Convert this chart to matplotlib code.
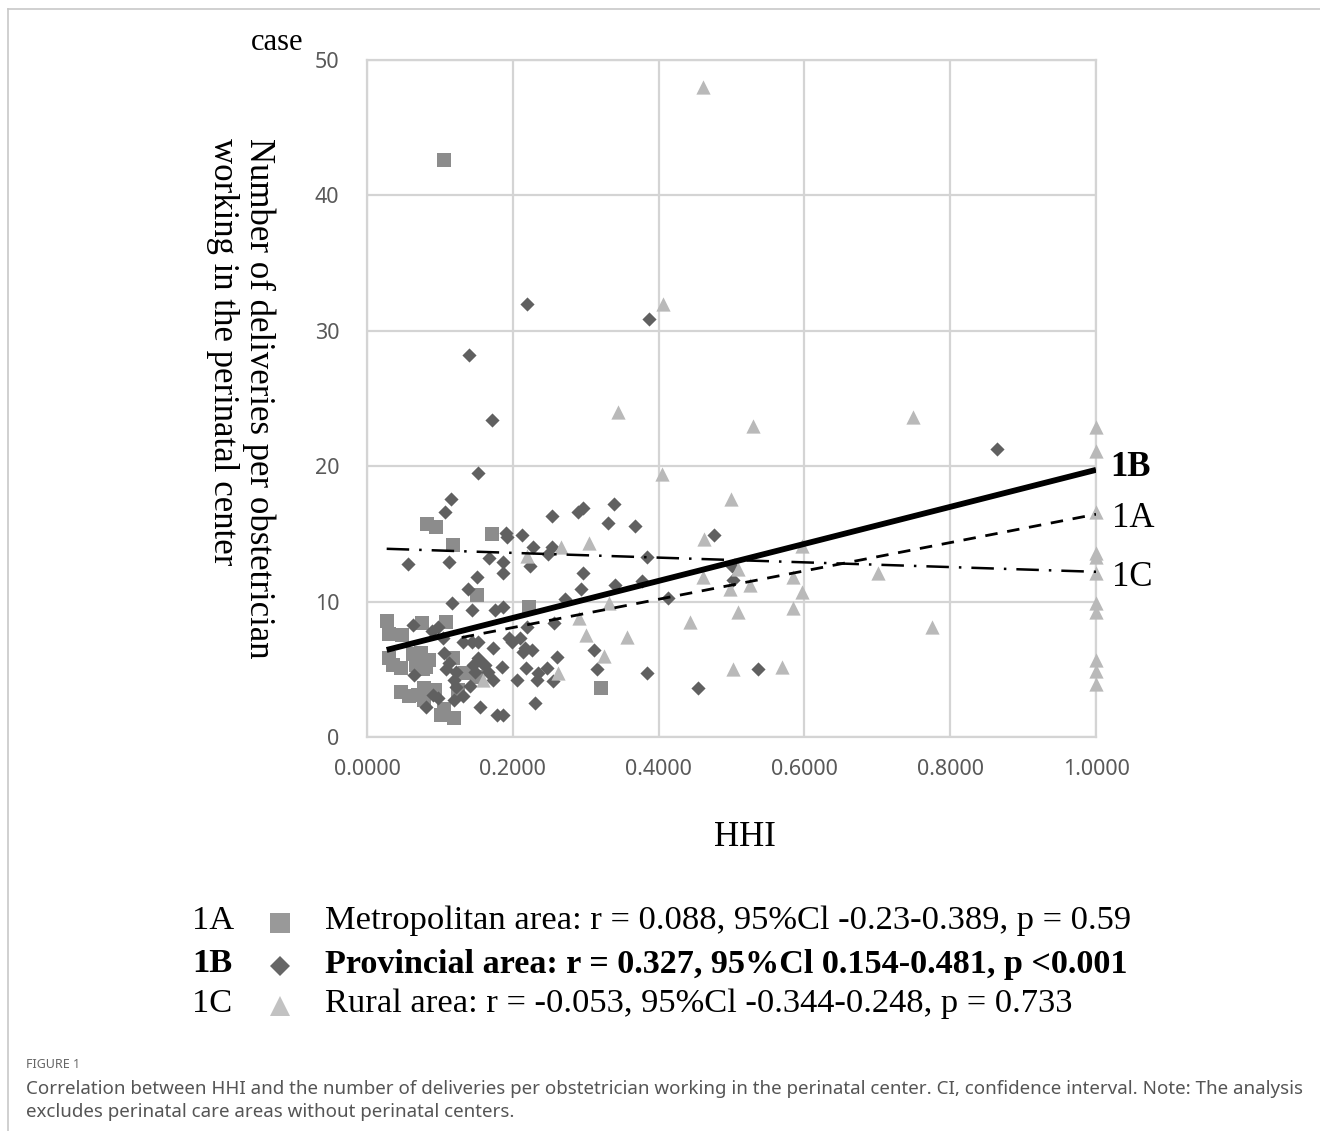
import matplotlib
matplotlib.use("Agg")
import matplotlib.pyplot as plt
from matplotlib.lines import Line2D

# ---------------- data ----------------
metro_x = [0.106, 0.027, 0.030, 0.048, 0.075, 0.108, 0.082, 0.095, 0.118, 0.171,
           0.151, 0.222, 0.321, 0.030, 0.036, 0.047, 0.063, 0.074, 0.067, 0.077,
           0.118, 0.047, 0.058, 0.070, 0.078, 0.078, 0.106, 0.102, 0.119, 0.125,
           0.134, 0.152, 0.085, 0.093, 0.081]
metro_y = [42.6, 8.6, 7.6, 7.5, 8.4, 8.5, 15.7, 15.5, 14.2, 15.0,
           10.5, 9.6, 3.6, 5.8, 5.3, 5.1, 6.1, 6.2, 5.3, 5.0,
           5.8, 3.3, 3.0, 3.1, 3.6, 2.7, 2.1, 1.6, 1.4, 3.5,
           4.7, 4.4, 5.7, 3.5, 5.2]

prov_x = [0.219, 0.140, 0.387, 0.171, 0.152, 0.864, 0.115, 0.107, 0.254, 0.289,
          0.296, 0.339, 0.331, 0.368, 0.191, 0.192, 0.213, 0.228, 0.254, 0.248,
          0.167, 0.187, 0.224, 0.187, 0.296, 0.294, 0.272, 0.340, 0.377, 0.384,
          0.413, 0.476, 0.502, 0.501, 0.536, 0.454, 0.384, 0.316, 0.311, 0.056,
          0.112, 0.151, 0.139, 0.117, 0.144, 0.176, 0.187, 0.063, 0.257, 0.219,
          0.195, 0.210, 0.217, 0.226, 0.261, 0.247, 0.218, 0.235, 0.233, 0.206,
          0.255, 0.230, 0.187, 0.178, 0.155, 0.132, 0.144, 0.152, 0.173, 0.199,
          0.214, 0.152, 0.158, 0.162, 0.145, 0.166, 0.185, 0.148, 0.173, 0.141,
          0.104, 0.106, 0.112, 0.064, 0.108, 0.122, 0.119, 0.122, 0.091, 0.097,
          0.119, 0.081, 0.132, 0.089, 0.097]
prov_y = [32.0, 28.2, 30.9, 23.4, 19.5, 21.3, 17.6, 16.6, 16.3, 16.6,
          16.9, 17.2, 15.8, 15.6, 15.1, 14.8, 14.9, 14.0, 14.0, 13.5,
          13.2, 12.9, 12.6, 12.1, 12.1, 10.9, 10.2, 11.2, 11.5, 13.3,
          10.3, 14.9, 11.6, 12.6, 5.0, 3.6, 4.7, 5.0, 6.4, 12.8,
          12.9, 11.8, 10.9, 9.9, 9.4, 9.4, 9.6, 8.3, 8.4, 8.1,
          7.3, 7.3, 6.6, 6.4, 5.9, 5.1, 5.1, 4.7, 4.2, 4.2,
          4.1, 2.5, 1.6, 1.6, 2.2, 7.0, 7.0, 7.0, 6.6, 7.0,
          6.3, 5.8, 5.5, 5.3, 5.3, 4.8, 5.2, 4.8, 4.2, 3.8,
          7.3, 6.2, 5.5, 4.6, 5.0, 4.8, 4.2, 3.7, 3.1, 2.9,
          2.7, 2.2, 3.0, 7.8, 8.1]

rural_x = [0.461, 0.406, 0.344, 0.749, 0.529, 0.405, 0.499, 0.462, 0.305, 0.266,
           0.219, 0.291, 0.300, 0.357, 0.325, 0.262, 0.332, 0.443, 0.461, 0.509,
           0.498, 0.525, 0.584, 0.597, 0.597, 0.509, 0.584, 0.502, 0.569, 0.701,
           0.775, 0.159,
           1.0, 1.0, 1.0, 1.0, 1.0, 1.0, 1.0, 1.0, 1.0, 1.0, 1.0]
rural_y = [48.0, 32.0, 24.0, 23.6, 23.0, 19.4, 17.6, 14.6, 14.3, 14.0,
           13.4, 8.8, 7.5, 7.4, 6.0, 4.7, 9.9, 8.5, 11.8, 12.4,
           10.9, 11.2, 11.8, 14.1, 10.7, 9.2, 9.5, 5.0, 5.2, 12.1,
           8.1, 4.2,
           22.9, 21.1, 16.6, 13.6, 13.3, 12.1, 9.9, 9.2, 5.7, 4.9, 3.9]

# trend lines (end points)
trend_1B_x = [0.027, 1.0]
trend_1B_y = [6.43, 19.73]
trend_1A_x = [0.13, 1.0]
trend_1A_y = [7.35, 16.45]
trend_1C_x = [0.027, 1.0]
trend_1C_y = [13.9, 12.2]

x_ticks = [0.0, 0.2, 0.4, 0.6, 0.8, 1.0]
y_ticks = [0, 10, 20, 30, 40, 50]

legend_ids = ["1A", "1B", "1C"]
legend_texts = ["Metropolitan area: r = 0.088, 95%Cl -0.23-0.389, p = 0.59",
                "Provincial area: r = 0.327, 95%Cl 0.154-0.481, p <0.001",
                "Rural area: r = -0.053, 95%Cl -0.344-0.248, p = 0.733"]

caption_head = "FIGURE 1"
caption_lines = ["Correlation between HHI and the number of deliveries per obstetrician working in the perinatal center. CI, confidence interval. Note: The analysis",
                 "excludes perinatal care areas without perinatal centers."]

# ---------------- styling ----------------
SERIF = ["Liberation Serif", "DejaVu Serif"]
SANS = ["Noto Sans", "DejaVu Sans"]
C_SQ = "#8c8c8c"
C_DI = "#606060"
C_TR = "#b9b9b9"
GRID = "#d4d4d4"

W, H = 1320, 1131
fig = plt.figure(figsize=(W / 100, H / 100), dpi=100)
fig.patch.set_facecolor("white")

def fx(px):
    return px / W

def fy(py):
    return 1 - py / H

ax = fig.add_axes([fx(367), fy(737), fx(1096) - fx(367), fy(60) - fy(737)])
ax.set_xlim(0, 1.0)
ax.set_ylim(0, 50)
ax.set_xticks(x_ticks)
ax.set_yticks(y_ticks)
ax.set_xticklabels([f"{v:.4f}" for v in x_ticks])
ax.set_yticklabels([str(v) for v in y_ticks])
ax.tick_params(length=0, labelsize=15.5, labelcolor="#595959")
ax.tick_params(axis="x", pad=16)
ax.tick_params(axis="y", pad=20)
for lab in ax.get_xticklabels() + ax.get_yticklabels():
    lab.set_fontfamily(SANS)
ax.grid(True, color=GRID, linewidth=1.6)
ax.set_axisbelow(True)
for s in ax.spines.values():
    s.set_color(GRID)
    s.set_linewidth(1.6)

ax.scatter(metro_x, metro_y, marker="s", s=88, color=C_SQ, linewidths=0, zorder=3, clip_on=False)
ax.scatter(prov_x, prov_y, marker="D", s=52, color=C_DI, linewidths=0, zorder=4, clip_on=False)
ax.scatter(rural_x, rural_y, marker="^", s=105, color=C_TR, linewidths=0, zorder=5, clip_on=False)

ax.plot(trend_1B_x, trend_1B_y, color="black", linewidth=4.2, solid_capstyle="butt", zorder=7)
ax.plot(trend_1A_x, trend_1A_y, color="black", linewidth=2.0, dashes=(4.5, 3.5), zorder=6)
ax.plot(trend_1C_x, trend_1C_y, color="black", linewidth=1.8, dashes=(9, 4, 1, 4), zorder=6)

# right-side line labels
fig.text(fx(1110), fy(468), "1B", family=SERIF, fontsize=25, fontweight="bold", va="center", ha="left")
fig.text(fx(1112), fy(518), "1A", family=SERIF, fontsize=25, va="center", ha="left")
fig.text(fx(1112), fy(578), "1C", family=SERIF, fontsize=25, va="center", ha="left")

# axis texts
fig.text(fx(277), fy(42), "case", family=SERIF, fontsize=22, ha="center", va="center")
fig.text(fx(259), fy(138), "Number of deliveries per obstetrician", family=SERIF, fontsize=25,
         rotation=-90, ha="center", va="top")
fig.text(fx(222), fy(138), "working in the perinatal center", family=SERIF, fontsize=25,
         rotation=-90, ha="center", va="top")
fig.text(fx(745), fy(838), "HHI", family=SERIF, fontsize=25, ha="center", va="center")

# custom legend
leg_y = [921, 964, 1004]
leg_markers = ["s", "D", "^"]
leg_colors = ["#999999", "#666666", "#c2c2c2"]
leg_sizes = [14, 10, 15]
for i in range(3):
    bold = "bold" if i == 1 else "normal"
    fig.text(fx(192), fy(leg_y[i]), legend_ids[i], family=SERIF, fontsize=24.8, fontweight=bold,
             ha="left", va="center")
    fig.add_artist(Line2D([fx(280)], [fy(leg_y[i] + 2)], marker=leg_markers[i], markersize=leg_sizes[i],
                          color=leg_colors[i], markeredgewidth=0, linestyle="none",
                          transform=fig.transFigure))
    fig.text(fx(325), fy(leg_y[i]), legend_texts[i], family=SERIF, fontsize=24.8 if i != 1 else 24.6,
             fontweight=bold, ha="left", va="center")

# caption
fig.text(fx(26), fy(1064), caption_head, family=SANS, fontsize=9, color="#666666", ha="left", va="center")
fig.text(fx(26), fy(1089), caption_lines[0], family=SANS, fontsize=13.5, color="#555555", ha="left", va="center")
fig.text(fx(26), fy(1112), caption_lines[1], family=SANS, fontsize=13.5, color="#555555", ha="left", va="center")

# frame lines
fig.add_artist(Line2D([fx(8), fx(8)], [fy(9), fy(1131)], color="#c8c8c8", linewidth=1.2, transform=fig.transFigure))
fig.add_artist(Line2D([fx(8), fx(1320)], [fy(9), fy(9)], color="#c8c8c8", linewidth=1.2, transform=fig.transFigure))

fig.savefig("out.png", dpi=100, facecolor="white")
